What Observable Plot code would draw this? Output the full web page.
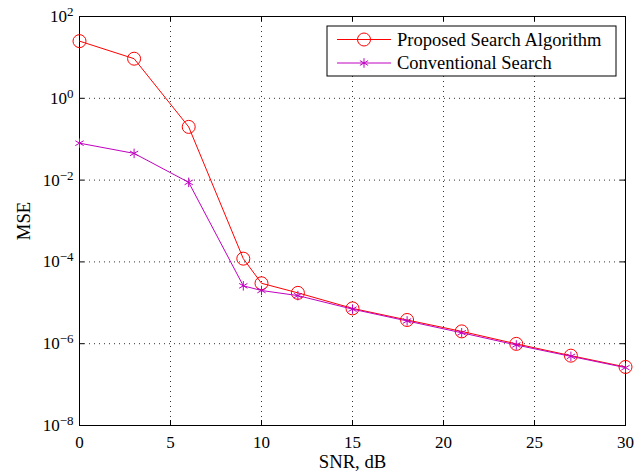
<!DOCTYPE html>
<html>
<head>
<meta charset="utf-8">
<script src="https://cdn.jsdelivr.net/npm/d3@7"></script>
<script src="https://cdn.jsdelivr.net/npm/@observablehq/plot@0.6"></script>
<style>
  html, body { margin: 0; padding: 0; background: #fff; }
  #chart { width: 635px; height: 474px; }
  svg text { font-family: "Liberation Serif", "DejaVu Serif", serif; }
</style>
</head>
<body>
<div id="chart"></div>
<script>
// SNR points (dB)
const snr = [0, 3, 6, 9, 10, 12, 15, 18, 21, 24, 27, 30];
// Mean squared error for each method
const proposedMSE = [25, 9.3, 0.2, 1.2e-4, 3.0e-5, 1.75e-5, 7.3e-6, 3.8e-6, 2.0e-6, 9.9e-7, 5.1e-7, 2.7e-7];
const conventionalMSE = [0.08, 0.045, 0.0088, 2.6e-5, 2.0e-5, 1.5e-5, 7.0e-6, 3.6e-6, 1.85e-6, 9.3e-7, 4.9e-7, 2.6e-7];
const seriesNames = ["Proposed Search Algorithm", "Conventional Search"];
const seriesColors = ["#ff0000", "#c000c0"];
const xTicks = [0, 5, 10, 15, 20, 25, 30];
const yTicks = [1e-8, 1e-6, 1e-4, 1e-2, 1e0, 1e2];
const xGrid = [5, 10, 15, 20, 25];
const yGrid = [1e-6, 1e-4, 1e-2, 1e0];

const proposed = snr.map((x, i) => ({x, y: proposedMSE[i]}));
const conventional = snr.map((x, i) => ({x, y: conventionalMSE[i]}));

const W = 635, H = 474;
const mTop = 16, mBottom = 49, mLeft = 79, mRight = 10;
const plotH = H - mTop - mBottom;
const plotW = W - mLeft - mRight;
const tickLen = 5;

const chart = Plot.plot({
  width: W,
  height: H,
  marginTop: mTop,
  marginBottom: mBottom,
  marginLeft: mLeft,
  marginRight: mRight,
  style: {fontFamily: "Liberation Serif, serif", fontSize: "17px", color: "#000", background: "#fff"},
  x: {domain: [0, 30]},
  y: {type: "log", domain: [1e-8, 1e2]},
  marks: [
    // dotted grid
    Plot.ruleX(xGrid, {x: d => d, stroke: "#333", strokeWidth: 1, strokeDasharray: "1,4"}),
    Plot.ruleY(yGrid, {y: d => d, stroke: "#333", strokeWidth: 1, strokeDasharray: "1,4"}),
    // inward ticks on all four sides
    Plot.ruleX(xTicks, {x: d => d, insetTop: plotH - tickLen, stroke: "#000"}),
    Plot.ruleX(xTicks, {x: d => d, insetBottom: plotH - tickLen, stroke: "#000"}),
    Plot.ruleY(yTicks, {y: d => d, insetRight: plotW - tickLen, stroke: "#000"}),
    Plot.ruleY(yTicks, {y: d => d, insetLeft: plotW - tickLen, stroke: "#000"}),
    Plot.frame({stroke: "#000", strokeWidth: 1}),
    Plot.axisX({ticks: xTicks, tickSize: 0, tickPadding: 10, fontSize: 17,
      label: "SNR, dB", labelAnchor: "center", labelArrow: "none", labelOffset: 42}),
    Plot.axisY({ticks: yTicks, tickSize: 0, tickPadding: 6, fontSize: 17,
      tickFormat: d => "10^" + Math.round(Math.log10(d)),
      label: "MSE", labelAnchor: "center", labelArrow: "none", labelOffset: 63}),
    // series
    Plot.line(proposed, {x: "x", y: "y", stroke: seriesColors[0], strokeWidth: 1}),
    Plot.dot(proposed, {x: "x", y: "y", r: 6.5, stroke: seriesColors[0], strokeWidth: 1, fill: "none"}),
    Plot.line(conventional, {x: "x", y: "y", stroke: seriesColors[1], strokeWidth: 1}),
    Plot.dot(conventional, {x: "x", y: "y", symbol: "asterisk", r: 4.5, stroke: seriesColors[1], strokeWidth: 1})
  ]
});

const svg = d3.select(chart);

// Power-of-ten labels with a raised exponent
svg.selectAll('g[aria-label="y-axis tick label"] text').each(function() {
  const t = d3.select(this);
  const parts = t.text().split("^");
  const exp = parts[1].replace("-", "\u2212");
  t.text(null);
  t.append("tspan").text(parts[0]);
  t.append("tspan").attr("dy", "-0.45em").attr("font-size", "13px").text(exp);
});

svg.selectAll('g[aria-label="x-axis label"] text, g[aria-label="y-axis label"] text')
  .attr("font-size", "18.7px");

// Legend box in the upper-right corner of the plot area
const lg = svg.append("g").attr("transform", "translate(327,26)");
lg.append("rect").attr("width", 289).attr("height", 50)
  .attr("fill", "#fff").attr("stroke", "#000").attr("stroke-width", 1);
seriesNames.forEach((name, i) => {
  const cy = 13.5 + i * 23.5;
  lg.append("line").attr("x1", 10).attr("x2", 64).attr("y1", cy).attr("y2", cy)
    .attr("stroke", seriesColors[i]).attr("stroke-width", 1);
  if (i === 0) {
    lg.append("circle").attr("cx", 37).attr("cy", cy).attr("r", 6.5)
      .attr("fill", "none").attr("stroke", seriesColors[i]);
  } else {
    lg.append("path").attr("transform", `translate(37,${cy})`)
      .attr("d", d3.symbol(d3.symbolAsterisk, Math.PI * 4.5 * 4.5)())
      .attr("fill", "none").attr("stroke", seriesColors[i]);
  }
  lg.append("text").attr("x", 70).attr("y", cy).attr("dy", "0.35em")
    .attr("text-anchor", "start")
    .attr("font-size", "18.5px").attr("fill", "#000").text(name);
});

document.getElementById("chart").appendChild(chart);
</script>
</body>
</html>
